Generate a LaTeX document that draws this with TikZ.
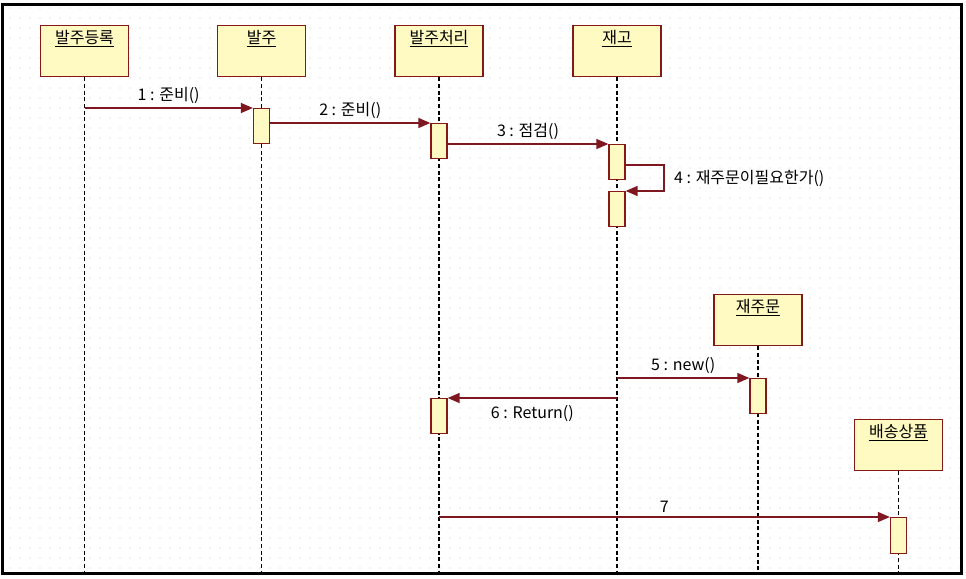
\documentclass[tikz,border=0pt]{standalone}
\usepackage{fontspec}
\setmainfont{Noto Sans CJK KR}
\usetikzlibrary{arrows.meta,patterns.meta}
\definecolor{boxfill}{HTML}{FFFAC2}
\definecolor{boxline}{HTML}{861818}
\definecolor{msgline}{HTML}{7F1721}
\definecolor{griddot}{HTML}{CFCFCF}
\begin{document}
\begin{tikzpicture}[x=0.75pt,y=-0.75pt,
  obj/.style={draw=boxline, fill=boxfill, line width=1pt, minimum width=66pt,
    minimum height=38.25pt, inner sep=0pt, anchor=north,
    label={[objtext]north:\underline{#1}}},
  objtext/.style={anchor=base, yshift=-13.6pt, font=\fontsize{12}{14}\selectfont, inner sep=0pt},
  act/.style={draw=boxline, fill=boxfill, line width=1pt, minimum width=12pt,
    minimum height=#1*0.75pt, inner sep=0pt, anchor=north},
  life/.style={line width=1.4pt, dash pattern=on 3pt off 2pt, black},
  msg/.style={draw=msgline, line width=1.1pt, -{Triangle[length=9pt,width=7.5pt]}},
  lbl/.style={font=\fontsize{12}{14}\selectfont, inner sep=1pt},
]
\useasboundingbox (0,0) rectangle (966,578);
\fill[white] (0,0) rectangle (966,578);
% dotted drawing sheet
\fill[pattern={Dots[radius=0.45pt, distance=7.5pt]}, pattern color=griddot] (2,4) rectangle (961.5,573.5);

\coordinate (bottom) at (0,572);

% objects
\node[obj=발주등록] (A) at (84.5,25) {};
\node[obj=발주] (B) at (261.5,25) {};
\node[obj=발주처리] (C) at (439,25) {};
\node[obj=재고] (D) at (617,25) {};
\node[obj=재주문] (E) at (758,294) {};
\node[obj=배송상품] (F) at (898.5,419) {};

% lifelines
\foreach \o in {A,B,C,D,E,F}
  \draw[life] (\o.south) -- (\o.south |- bottom);

% activations
\node[act=35] (B1) at (261.5,108) {};
\node[act=35] (C1) at (439,123) {};
\node[act=35] (D1) at (617,144) {};
\node[act=35] (D2) at (617,191) {};
\node[act=35] (E1) at (758,378) {};
\node[act=35] (C2) at (439,398) {};
\node[act=36] (F1) at (898.5,517) {};

% messages
\draw[msg] (A.south |- B1.north) -- node[lbl, above=2pt] {1 : 준비()} (B1.north west);
\draw[msg] (B1.east |- C1.north) -- node[lbl, above=2pt] {2 : 준비()} (C1.north west);
\draw[msg] (C1.east |- D1.north) -- node[lbl, above=2pt] {3 : 점검()} (D1.north west);
\coordinate (loop) at (664,165);
\draw[msg] (D1.east |- loop) -- (loop) -- node[lbl, right=6pt] {4 : 재주문이필요한가()} (loop |- D2.north) -- (D2.north east);
\draw[msg] (D.south |- E1.north) -- node[lbl, above=2pt] {5 : new()} (E1.north west);
\draw[msg] (D.south |- C2.north) -- node[lbl, below=4pt] {6 : Return()} (C2.north east);
\draw[msg] (C.south |- F1.north) -- node[lbl, above=2pt] {7} (F1.north west);

% sheet frame
\draw[line width=2.25pt] (2,4) rectangle (961.5,573.5);
\end{tikzpicture}
\end{document}
